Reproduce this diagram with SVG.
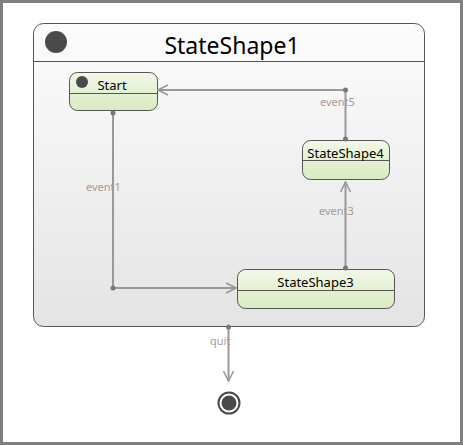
<svg xmlns="http://www.w3.org/2000/svg" width="463" height="445" viewBox="0 0 463 445">
  <style>
    .frame { fill: #ffffff; stroke: #808080; stroke-width: 3; }
    .state { fill: url(#stateFill); stroke: #555555; stroke-width: 1; }
    .composite { fill: url(#compFill); stroke: #555555; stroke-width: 1; }
    .divider { stroke: #555555; stroke-width: 1; }
    .name { font-family: "Noto Sans", "Open Sans", "Liberation Sans", sans-serif; font-size: 13px; fill: #000000; text-anchor: middle; }
    .title { font-family: "Noto Sans", "Open Sans", "Liberation Sans", sans-serif; font-size: 23px; fill: #000000; text-anchor: middle; }
    .edge { fill: none; stroke: #999999; stroke-width: 2; }
    .label { font-family: "Noto Sans", "Open Sans", "Liberation Sans", sans-serif; font-size: 11px; fill: #a89a9a; }
    .dot { fill: #777777; }
    .pseudo { fill: #4a4a4a; }
  </style>
  <defs>
    <linearGradient id="stateFill" x1="0" y1="0" x2="0" y2="1">
      <stop offset="0" stop-color="#f2f8e8"/>
      <stop offset="1" stop-color="#d8eac2"/>
    </linearGradient>
    <linearGradient id="compFill" x1="0" y1="0" x2="0" y2="1">
      <stop offset="0" stop-color="#fcfcfc"/>
      <stop offset="1" stop-color="#e4e4e4"/>
    </linearGradient>
    <marker id="open" viewBox="0 0 12 12" refX="11" refY="6" markerWidth="12" markerHeight="12" markerUnits="userSpaceOnUse" orient="auto">
      <path d="M1,1 L11,6 L1,11" fill="none" stroke="#999999" stroke-width="1.6"/>
    </marker>
  </defs>

  <rect class="frame" x="1.5" y="1.5" width="460" height="442"/>

  <!-- composite state -->
  <g id="StateShape1">
    <rect class="composite" x="33.5" y="23.5" width="391" height="303" rx="10"/>
    <line class="divider" x1="33.5" y1="61.5" x2="424.5" y2="61.5"/>
    <circle class="pseudo" cx="56" cy="42" r="11"/>
    <text class="title" x="232" y="54">StateShape1</text>
  </g>

  <g id="Start">
    <rect class="state" x="69.5" y="72.5" width="88" height="38" rx="8"/>
    <line class="divider" x1="69.5" y1="93.5" x2="157.5" y2="93.5"/>
    <circle class="pseudo" cx="82" cy="82" r="6"/>
    <text class="name" x="112" y="90">Start</text>
  </g>

  <g id="StateShape4">
    <rect class="state" x="302.5" y="140.5" width="87" height="39" rx="8"/>
    <line class="divider" x1="302.5" y1="160.5" x2="389.5" y2="160.5"/>
    <text class="name" x="345.5" y="157.5">StateShape4</text>
  </g>

  <g id="StateShape3">
    <rect class="state" x="237.5" y="269.5" width="157" height="39" rx="8"/>
    <line class="divider" x1="237.5" y1="290.5" x2="394.5" y2="290.5"/>
    <text class="name" x="315.5" y="286.5">StateShape3</text>
  </g>

  <g id="Final">
    <circle cx="229" cy="403" r="10.5" fill="#ffffff" stroke="#4a4a4a" stroke-width="2"/>
    <circle class="pseudo" cx="229" cy="403" r="7.5"/>
  </g>

  <g id="connectors">
    <!-- event1 -->
    <path class="edge" d="M113,113 V288 H236" marker-end="url(#open)"/>
    <circle class="dot" cx="113" cy="113" r="2.5"/>
    <circle class="dot" cx="113" cy="288" r="2.5"/>
    <text class="label" x="86" y="191">event1</text>
    <!-- event3 -->
    <path class="edge" d="M345.5,268 V182" marker-end="url(#open)"/>
    <circle class="dot" cx="345.5" cy="268" r="2.5"/>
    <text class="label" x="319" y="215">event3</text>
    <!-- event5 -->
    <path class="edge" d="M345.5,139 V90 H158" marker-end="url(#open)"/>
    <circle class="dot" cx="345.5" cy="139" r="2.5"/>
    <circle class="dot" cx="345.5" cy="90" r="2.5"/>
    <text class="label" x="320" y="106">event5</text>
    <!-- quit -->
    <path class="edge" d="M228.5,327 V381" marker-end="url(#open)"/>
    <circle class="dot" cx="228.5" cy="327" r="2.5"/>
    <text class="label" x="210" y="345">quit</text>
  </g>
</svg>
